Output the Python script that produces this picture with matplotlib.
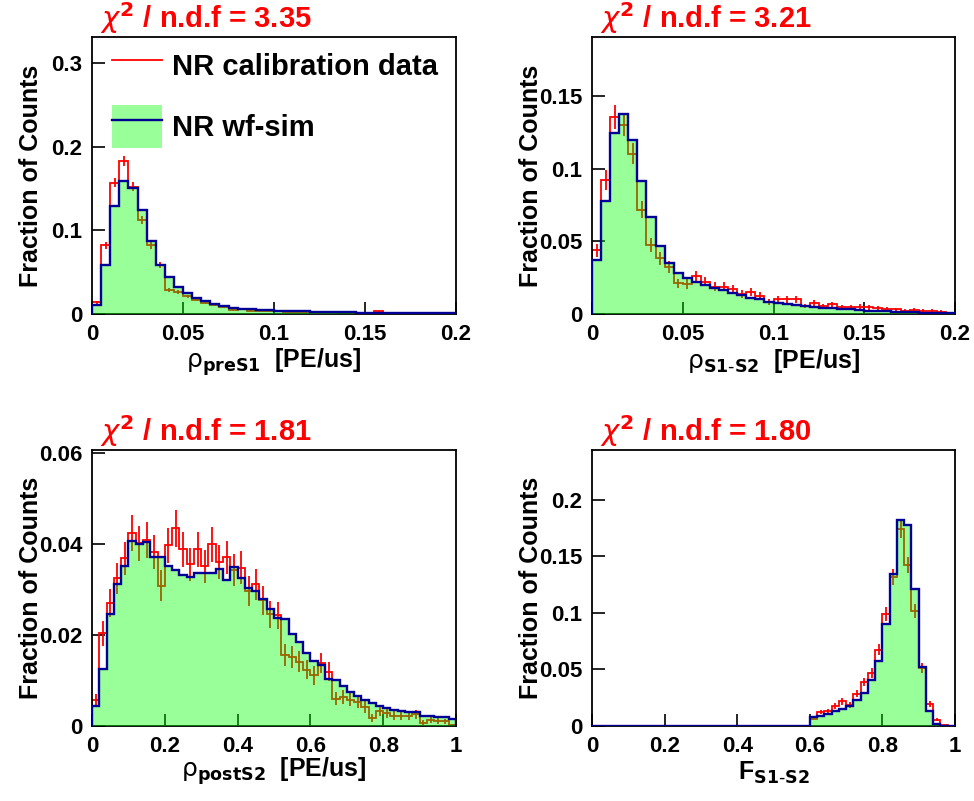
import numpy as np
import matplotlib.pyplot as plt
from matplotlib.lines import Line2D
from matplotlib.patches import Patch
from matplotlib.legend_handler import HandlerTuple
from matplotlib.ticker import FormatStrFormatter

plt.rcParams['font.family'] = ['Liberation Sans', 'DejaVu Sans']
plt.rcParams['mathtext.fontset'] = 'dejavusans'

# ---- data (fraction of counts per bin) ----
# rho_preS1 : 40 bins on [0, 0.2]
pre_data = [0.014, 0.082, 0.157, 0.183, 0.152, 0.112, 0.082, 0.059, 0.029, 0.026,
            0.021, 0.017, 0.0135, 0.011, 0.0088, 0.0048, 0.0056, 0.004, 0.0036, 0.0032,
            0.003, 0.0028, 0.0026, 0.0024, 0.0022, 0.002, 0.0018, 0.0016, 0.0014, 0.0012,
            0.001, 0.003, 0.0008, 0.0006, 0.0006, 0.0005, 0.0004, 0.0004, 0.0003, 0.0003]
pre_sim = [0.0104, 0.058, 0.129, 0.159, 0.151, 0.124, 0.087, 0.059, 0.044, 0.032,
           0.025, 0.019, 0.015, 0.012, 0.0096, 0.0072, 0.0064, 0.0056, 0.005, 0.0045,
           0.004, 0.0036, 0.0033, 0.003, 0.0027, 0.0025, 0.0023, 0.0021, 0.0019, 0.0017,
           0.0016, 0.0015, 0.0014, 0.0013, 0.0012, 0.0011, 0.001, 0.0009, 0.0009, 0.0008]

# rho_S1-S2 : 40 bins on [0, 0.2]
s1s2_data = [0.0438, 0.0926, 0.136, 0.1306, 0.1106, 0.0719, 0.0477, 0.0385, 0.0323, 0.0212,
             0.0207, 0.0263, 0.0224, 0.0189, 0.0189, 0.0173, 0.0136, 0.0154, 0.0124, 0.0085,
             0.0101, 0.0101, 0.0101, 0.0055, 0.0074, 0.0055, 0.0067, 0.0046, 0.0046, 0.0051,
             0.0046, 0.0041, 0.0037, 0.0032, 0.0023, 0.0028, 0.0023, 0.0023, 0.0016, 0.0009]
s1s2_sim = [0.0373, 0.0776, 0.1249, 0.1376, 0.1203, 0.0919, 0.0666, 0.047, 0.0355, 0.0281,
            0.0251, 0.0224, 0.02, 0.0177, 0.0166, 0.0143, 0.0131, 0.0113, 0.0101, 0.0085,
            0.0078, 0.0067, 0.006, 0.0055, 0.0051, 0.0044, 0.0039, 0.0035, 0.0032, 0.0028,
            0.0023, 0.0021, 0.0018, 0.0016, 0.0014, 0.0012, 0.001, 0.0009, 0.0007, 0.0005]

# rho_postS2 : 50 bins on [0, 1]
post_data = [0.0056, 0.0204, 0.027, 0.0324, 0.0368, 0.0423, 0.0401, 0.0408, 0.0382, 0.0308,
             0.0397, 0.0434, 0.0388, 0.0355, 0.0388, 0.0351, 0.0399, 0.036, 0.037, 0.0342,
             0.0348, 0.0297, 0.0311, 0.0276, 0.0245, 0.0243, 0.0155, 0.0152, 0.0141, 0.0124,
             0.0111, 0.0138, 0.0119, 0.006, 0.0064, 0.0058, 0.0053, 0.0042, 0.0018, 0.0034,
             0.0029, 0.0023, 0.0023, 0.0023, 0.0026, 0.0007, 0.0014, 0.0012, 0.001, 0.0002]
post_sim = [0.0045, 0.0126, 0.0245, 0.0311, 0.0351, 0.0406, 0.04, 0.0404, 0.0371, 0.037,
            0.0351, 0.0342, 0.0331, 0.0327, 0.0337, 0.0335, 0.0335, 0.0344, 0.032, 0.0349,
            0.0324, 0.0302, 0.0296, 0.0278, 0.0256, 0.0238, 0.0236, 0.0203, 0.0185, 0.0161,
            0.0142, 0.0133, 0.0103, 0.0102, 0.0088, 0.0075, 0.0065, 0.0056, 0.0051, 0.0045,
            0.004, 0.0036, 0.0032, 0.0031, 0.0031, 0.0023, 0.0021, 0.002, 0.002, 0.0016]

# F_S1-S2 : 50 bins on [0, 1], empty below 0.6
fs_data = [0.0] * 30 + [0.0065, 0.0124, 0.0132, 0.0174, 0.0218, 0.0182, 0.0285, 0.0388, 0.0468, 0.0676,
                        0.0991, 0.1315, 0.1741, 0.1424, 0.1015, 0.0512, 0.0197, 0.0056, 0.0006, 0.0]
fs_sim = [0.0] * 30 + [0.0079, 0.0091, 0.0103, 0.0132, 0.0153, 0.0176, 0.0232, 0.0291, 0.0409, 0.0579,
                       0.0903, 0.1344, 0.1824, 0.1776, 0.1212, 0.0521, 0.0132, 0.0015, 0.0003, 0.0]

# events per panel (sets the Poisson error bars on the data)
n_events = [5000, 2000, 2700, 2700]
chi2 = ['3.35', '3.21', '1.81', '1.80']

panels = [
    dict(data=pre_data, sim=pre_sim, xr=(0, 0.2), ymax=0.331,
         yt=[0, 0.1, 0.2, 0.3], xt=[0, 0.05, 0.1, 0.15, 0.2],
         xlabel=r'$\mathrm{\rho}_{\mathbf{preS1}}$  [PE/us]'),
    dict(data=s1s2_data, sim=s1s2_sim, xr=(0, 0.2), ymax=0.191,
         yt=[0, 0.05, 0.1, 0.15], xt=[0, 0.05, 0.1, 0.15, 0.2],
         xlabel=r'$\mathrm{\rho}_{\mathbf{S1\text{-}S2}}$  [PE/us]'),
    dict(data=post_data, sim=post_sim, xr=(0, 1), ymax=0.0606,
         yt=[0, 0.02, 0.04, 0.06], xt=[0, 0.2, 0.4, 0.6, 0.8, 1],
         xlabel=r'$\mathrm{\rho}_{\mathbf{postS2}}$  [PE/us]'),
    dict(data=fs_data, sim=fs_sim, xr=(0, 1), ymax=0.244,
         yt=[0, 0.05, 0.1, 0.15, 0.2], xt=[0, 0.2, 0.4, 0.6, 0.8, 1],
         xlabel=r'F$_{\mathbf{S1\text{-}S2}}$'),
]

W, H = 974, 801
fig = plt.figure(figsize=(W / 100, H / 100), dpi=100)

# axes boxes in pixels: left, right, top, bottom
boxes = [(92, 456, 37, 314), (592, 955, 37, 314),
         (92, 456, 450, 726), (592, 955, 450, 726)]
title_base = [28, 28, 441, 441]
xlab_base = [368, 368, 777, 780]

red = '#ff0000'
blue = '#000096'

for i, p in enumerate(panels):
    l, r, t, b = boxes[i]
    ax = fig.add_axes([l / W, 1 - b / H, (r - l) / W, (b - t) / H])
    data = np.array(p['data'])
    sim = np.array(p['sim'])
    edges = np.linspace(p['xr'][0], p['xr'][1], len(data) + 1)
    centers = 0.5 * (edges[1:] + edges[:-1])
    err = np.sqrt(data / n_events[i])

    ax.stairs(data, edges, color=red, lw=1.3, zorder=2)
    nz = data > 0
    ax.errorbar(centers[nz], data[nz], yerr=err[nz], fmt='none',
                ecolor=red, elinewidth=1.3, capsize=0, zorder=2)
    ax.stairs(sim, edges, fill=True, color=(0, 1, 0), alpha=0.4, lw=0, zorder=3)
    ax.stairs(sim, edges, color=blue, lw=1.7, zorder=4)

    ax.set_xlim(*p['xr'])
    ax.set_ylim(0, p['ymax'])
    ax.set_xticks(p['xt'])
    ax.set_yticks(p['yt'])
    ax.xaxis.set_major_formatter(FormatStrFormatter('%g'))
    ax.yaxis.set_major_formatter(FormatStrFormatter('%g'))
    ax.tick_params(direction='in', length=9, width=1.2, labelsize=16, pad=7)
    for lab in ax.get_xticklabels() + ax.get_yticklabels():
        lab.set_fontweight('bold')
    for s in ax.spines.values():
        s.set_linewidth(1.3)

    ax.set_ylabel('Fraction of Counts', fontsize=18, fontweight='bold')
    ax.yaxis.set_label_coords(-0.135, 0.5)

    cx = (l + r) / 2 / W
    fig.text(cx, 1 - xlab_base[i] / H, p['xlabel'], ha='center', va='baseline',
             fontsize=18, fontweight='bold')
    fig.text((l + 8) / W, 1 - title_base[i] / H,
             r'$\chi^{\mathbf{2}}$ / n.d.f = ' + chi2[i],
             ha='left', va='baseline', fontsize=21, fontweight='bold', color=red)

    if i == 0:
        h_data = Line2D([], [], color=red, lw=1.3)
        h_sim = (Patch(facecolor=(0, 1, 0), alpha=0.4, lw=0), Line2D([], [], color=blue, lw=1.7))
        ax.legend([h_data, h_sim], ['NR calibration data', 'NR wf-sim'],
                  handler_map={tuple: HandlerTuple(ndivide=1, pad=0)},
                  loc='upper left', bbox_to_anchor=(0.055, 0.974), frameon=False,
                  borderpad=0, borderaxespad=0,
                  prop={'weight': 'bold', 'size': 21}, handlelength=1.7,
                  handleheight=1.9, labelspacing=0.6, handletextpad=0.35)

fig.savefig('out.png', dpi=100)
